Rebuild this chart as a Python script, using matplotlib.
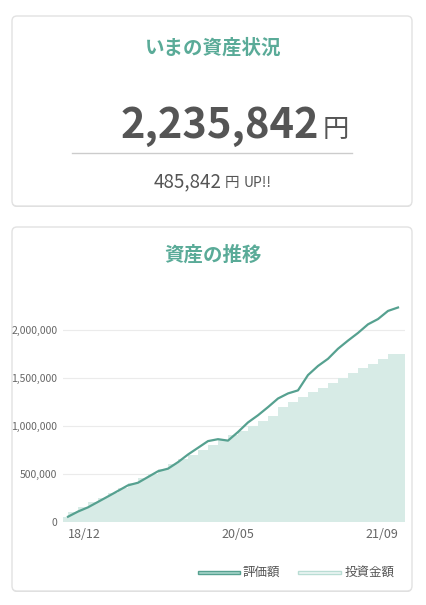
import numpy as np
import matplotlib
matplotlib.use("Agg")
import matplotlib.pyplot as plt
from matplotlib.patches import FancyBboxPatch, Rectangle

plt.rcParams['font.family'] = ['Noto Sans CJK JP', 'DejaVu Sans']

# 評価額 (monthly, 18/12 .. 21/09)
valuation = [50000, 104000, 148000, 205000, 262000, 320000, 378000, 405000,
             465000, 525000, 552000, 620000, 700000, 770000, 840000, 860000,
             845000, 935000, 1035000, 1110000, 1195000, 1285000, 1338000, 1370000,
             1530000, 1625000, 1700000, 1805000, 1890000, 1970000, 2060000, 2115000,
             2200000, 2235842]
# 投資金額
invest = [50000, 100000, 150000, 200000, 250000, 300000, 350000, 400000,
          450000, 500000, 550000, 600000, 650000, 700000, 750000, 800000,
          850000, 900000, 950000, 1000000, 1050000, 1100000, 1200000, 1250000,
          1300000, 1350000, 1400000, 1450000, 1500000, 1550000, 1600000, 1650000,
          1700000, 1750000]
tick_pos = [0, 17, 33]
tick_labels = ['18/12', '20/05', '21/09']
y_ticks = [0, 500000, 1000000, 1500000, 2000000]

teal = '#5aab98'
line_c = '#56a190'
area_c = '#d7ebe6'
dark = '#555555'

W, H = 426, 605
fig = plt.figure(figsize=(W / 100, H / 100), dpi=100)
fig.patch.set_facecolor('white')

# background layer in pixel coords
bg = fig.add_axes([0, 0, 1, 1])
bg.set_xlim(0, W)
bg.set_ylim(H, 0)
bg.axis('off')

def card(y0, y1):
    sh = FancyBboxPatch((12, y0 + 1), 400, y1 - y0, boxstyle='round,pad=0,rounding_size=5',
                        fc='#dcdcdc', ec='none', zorder=0)
    c = FancyBboxPatch((12, y0), 400, y1 - y0, boxstyle='round,pad=0,rounding_size=5',
                       fc='white', ec='#e2e2e2', lw=1, zorder=1)
    bg.add_patch(sh)
    bg.add_patch(c)

card(16, 206)
card(227, 591)

total = valuation[-1]
gain = total - invest[-1]

bg.text(213, 48, 'いまの資産状況', ha='center', va='center', fontsize=14,
        fontweight='bold', color=teal, zorder=3)
bg.text(319, 138, f'{total:,}', ha='right', va='baseline', fontsize=30,
        fontweight='bold', color=dark, zorder=3)
bg.text(323, 137, '円', ha='left', va='baseline', fontsize=19, color=dark, zorder=3)
bg.plot([72, 352], [153, 153], color='#cccccc', lw=1, zorder=3)
bg.text(222, 187, f'{gain:,}', ha='right', va='baseline', fontsize=13.5, color=dark, zorder=3)
bg.text(225, 187, '円', ha='left', va='baseline', fontsize=10.5, color=dark, zorder=3)
bg.text(244, 187, 'UP!!', ha='left', va='baseline', fontsize=10, color=dark, zorder=3)

bg.text(213, 255, '資産の推移', ha='center', va='center', fontsize=14,
        fontweight='bold', color=teal, zorder=3)

# legend
bg.add_patch(Rectangle((198, 570.5), 42, 3, fc='#a8d6cb', ec=line_c, lw=1, zorder=3))
bg.text(243, 572, '評価額', ha='left', va='center', fontsize=9, color=dark, zorder=3)
bg.add_patch(Rectangle((298, 570.5), 43, 3, fc='#eef7f5', ec='#b9ddd4', lw=1, zorder=3))
bg.text(345, 572, '投資金額', ha='left', va='center', fontsize=9, color=dark, zorder=3)

# chart
ax = fig.add_axes([63 / W, (H - 521.5) / H, 342 / W, (521.5 - 287) / H])
ax.patch.set_alpha(0)
n = len(valuation)
x = np.arange(n)
xs = np.r_[-0.5, x, n - 1 + 0.7]
ys = np.r_[invest[0], invest, invest[-1]]
ax.fill_between(xs, 0, ys, step='pre', color=area_c, lw=0, zorder=1)
ax.plot(x, valuation, color=line_c, lw=1.6, zorder=3)

ax.set_xlim(-0.5, n - 1 + 0.7)
ax.set_ylim(0, 2450000)
ax.set_yticks(y_ticks)
ax.set_yticklabels([f'{v:,}' for v in y_ticks], fontsize=7.5, color='#666666')
ax.set_xticks(tick_pos)
ax.set_xticklabels(tick_labels, fontsize=9, color='#666666')
labels = ax.get_xticklabels()
labels[0].set_ha('left')
labels[-1].set_ha('right')
ax.tick_params(length=0, pad=4)
ax.tick_params(axis='x', pad=5)
ax.grid(axis='y', color='#ebebeb', lw=0.8, zorder=0)
ax.set_axisbelow(True)
for s in ax.spines.values():
    s.set_visible(False)

fig.savefig('out.png', dpi=100)
